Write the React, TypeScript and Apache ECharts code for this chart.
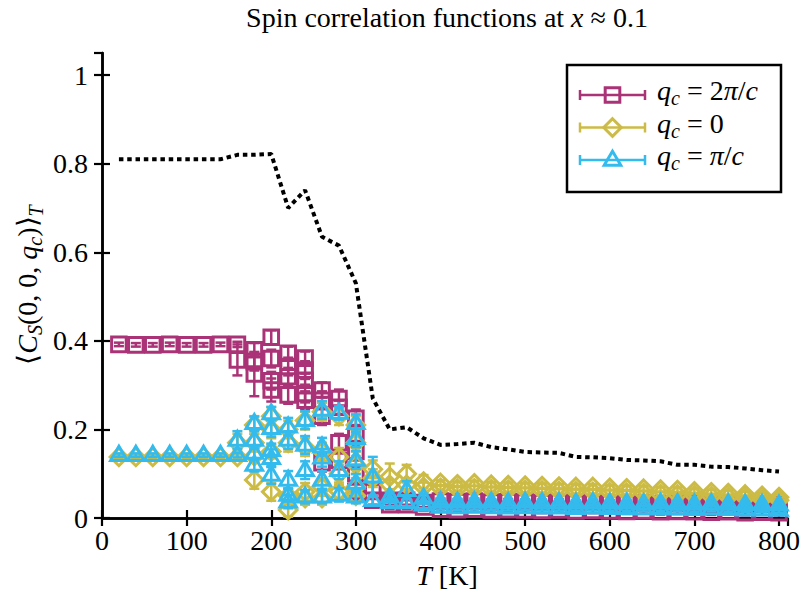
import React, { useEffect, useRef } from 'react';
import * as echarts from 'echarts';

const FONT = "'Liberation Serif', 'Times New Roman', serif";
const MAGENTA = '#AA3377';
const YELLOW = '#CCBB44';
const CYAN = '#33BBEE';

// ---------- q_c = 2π/c (open squares) ----------
const tTwoPi = [20, 40, 60, 80, 100, 120, 140,
  160, 160, 180, 180, 180, 200, 200, 200, 200, 220, 220, 220, 220,
  240, 240, 240, 240, 240, 260, 260, 260, 260, 280, 280, 280, 280,
  300, 300, 300, 300, 300, 320, 320, 340, 340, 360, 360, 380, 380,
  400, 400, 420, 420, 440, 440, 460, 460, 480, 480, 500, 500, 520, 520, 540, 540,
  560, 560, 580, 580, 600, 600, 620, 620, 640, 640, 660, 660, 680, 680, 700, 700,
  720, 720, 740, 740, 760, 760, 780, 780, 800, 800];
const vTwoPi = [0.392, 0.391, 0.391, 0.392, 0.391, 0.391, 0.392,
  0.392, 0.357, 0.38, 0.353, 0.325, 0.408, 0.36, 0.31, 0.289, 0.372, 0.342, 0.319, 0.278,
  0.361, 0.334, 0.311, 0.281, 0.266, 0.289, 0.266, 0.23, 0.125, 0.27, 0.25, 0.17, 0.13,
  0.225, 0.19, 0.15, 0.1, 0.06, 0.06, 0.04, 0.03, 0.04, 0.04, 0.03, 0.035, 0.025,
  0.038, 0.020, 0.037, 0.019, 0.038, 0.020, 0.036, 0.018, 0.037, 0.019, 0.036, 0.018,
  0.035, 0.017, 0.036, 0.018, 0.034, 0.016, 0.035, 0.017, 0.034, 0.016, 0.033, 0.015,
  0.034, 0.016, 0.032, 0.014, 0.033, 0.015, 0.032, 0.014, 0.031, 0.013, 0.032, 0.014,
  0.030, 0.012, 0.031, 0.013, 0.030, 0.012];
const eTwoPi = [0.004, 0.004, 0.004, 0.004, 0.004, 0.004, 0.004,
  0.006, 0.035, 0.015, 0.02, 0.05, 0.016, 0.02, 0.02, 0.026, 0.015, 0.02, 0.02, 0.02,
  0.015, 0.02, 0.015, 0.02, 0.02, 0.017, 0.02, 0.02, 0.02, 0.02, 0.015, 0.02, 0.02,
  0.02, 0.02, 0.02, 0.02, 0.02, 0.015, 0.01, 0.01, 0.01, 0.01, 0.01, 0.01, 0.008,
  0.006, 0.006, 0.006, 0.006, 0.006, 0.006, 0.006, 0.006, 0.006, 0.006, 0.006, 0.006,
  0.006, 0.006, 0.006, 0.006, 0.006, 0.006, 0.006, 0.006, 0.006, 0.006, 0.006, 0.006,
  0.006, 0.006, 0.006, 0.006, 0.006, 0.006, 0.006, 0.006, 0.006, 0.006, 0.006, 0.006,
  0.006, 0.006, 0.006, 0.006, 0.006, 0.006];

// ---------- q_c = 0 (open diamonds) ----------
const tZero = [20, 40, 60, 80, 100, 120, 140,
  160, 160, 180, 180, 180, 180, 200, 200, 200, 200, 220, 220, 220, 220,
  240, 240, 240, 240, 260, 260, 260, 260, 280, 280, 280, 280,
  300, 300, 300, 300, 300, 320, 320, 340, 340, 360, 360, 380, 380,
  400, 400, 420, 420, 440, 440, 460, 460, 480, 480, 500, 500, 520, 520, 540, 540,
  560, 560, 580, 580, 600, 600, 620, 620, 640, 640, 660, 660, 680, 680, 700, 700,
  720, 720, 740, 740, 760, 760, 780, 780, 800, 800];
const vZero = [0.138, 0.138, 0.138, 0.138, 0.138, 0.138, 0.138,
  0.138, 0.17, 0.21, 0.17, 0.14, 0.086, 0.23, 0.2, 0.15, 0.059, 0.2, 0.17, 0.05, 0.018,
  0.22, 0.16, 0.059, 0.045, 0.24, 0.15, 0.07, 0.045, 0.23, 0.138, 0.1, 0.06,
  0.21, 0.17, 0.12, 0.07, 0.05, 0.11, 0.09, 0.093, 0.075, 0.10, 0.075, 0.082, 0.07,
  0.079, 0.068, 0.076, 0.066, 0.078, 0.067, 0.075, 0.065, 0.074, 0.064, 0.073, 0.063,
  0.072, 0.062, 0.071, 0.061, 0.070, 0.060, 0.070, 0.059, 0.068, 0.058, 0.067, 0.057,
  0.066, 0.056, 0.064, 0.054, 0.063, 0.053, 0.060, 0.051, 0.058, 0.049, 0.056, 0.047,
  0.053, 0.045, 0.050, 0.042, 0.047, 0.040];
const eZero = [0.004, 0.004, 0.004, 0.004, 0.004, 0.004, 0.004,
  0.005, 0.02, 0.02, 0.02, 0.015, 0.02, 0.02, 0.02, 0.015, 0.02, 0.02, 0.02, 0.015, 0.015,
  0.02, 0.02, 0.02, 0.015, 0.02, 0.02, 0.02, 0.015, 0.02, 0.02, 0.02, 0.015,
  0.02, 0.02, 0.02, 0.02, 0.015, 0.02, 0.02, 0.03, 0.01, 0.02, 0.01, 0.015, 0.01,
  0.006, 0.006, 0.006, 0.006, 0.006, 0.006, 0.006, 0.006, 0.006, 0.006, 0.006, 0.006,
  0.006, 0.006, 0.006, 0.006, 0.006, 0.006, 0.006, 0.006, 0.006, 0.006, 0.006, 0.006,
  0.006, 0.006, 0.006, 0.006, 0.006, 0.006, 0.006, 0.006, 0.006, 0.006, 0.006, 0.006,
  0.006, 0.006, 0.006, 0.006, 0.006, 0.006];

// ---------- q_c = π/c (open triangles) ----------
const tPi = [20, 40, 60, 80, 100, 120, 140,
  160, 160, 180, 180, 180, 180, 200, 200, 200, 200, 200, 220, 220, 220, 220, 220,
  240, 240, 240, 240, 260, 260, 260, 260, 260, 280, 280, 280,
  300, 300, 300, 300, 300, 320, 320, 340, 340, 360, 360, 380, 380,
  400, 400, 420, 420, 440, 440, 460, 460, 480, 480, 500, 500, 520, 520, 540, 540,
  560, 560, 580, 580, 600, 600, 620, 620, 640, 640, 660, 660, 680, 680, 700, 700,
  720, 720, 740, 740, 760, 760, 780, 780, 800, 800];
const vPi = [0.142, 0.142, 0.142, 0.142, 0.142, 0.142, 0.142,
  0.142, 0.176, 0.214, 0.176, 0.147, 0.12, 0.236, 0.203, 0.153, 0.135, 0.097,
  0.206, 0.176, 0.086, 0.052, 0.037, 0.221, 0.165, 0.108, 0.048,
  0.244, 0.161, 0.136, 0.086, 0.048, 0.237, 0.108, 0.052,
  0.214, 0.18, 0.131, 0.079, 0.048, 0.093, 0.04, 0.048, 0.035, 0.063, 0.035, 0.045, 0.03,
  0.037, 0.025, 0.036, 0.024, 0.037, 0.025, 0.036, 0.024, 0.035, 0.023, 0.036, 0.024,
  0.035, 0.023, 0.035, 0.023, 0.034, 0.022, 0.035, 0.023, 0.034, 0.022, 0.034, 0.022,
  0.033, 0.021, 0.034, 0.022, 0.033, 0.021, 0.032, 0.020, 0.033, 0.021, 0.032, 0.020,
  0.031, 0.019, 0.031, 0.019, 0.030, 0.018];
const ePi = [0.004, 0.004, 0.004, 0.004, 0.004, 0.004, 0.004,
  0.005, 0.02, 0.015, 0.02, 0.015, 0.015, 0.015, 0.02, 0.015, 0.02, 0.02,
  0.02, 0.02, 0.02, 0.015, 0.015, 0.02, 0.02, 0.02, 0.015,
  0.02, 0.02, 0.02, 0.02, 0.015, 0.015, 0.02, 0.015,
  0.02, 0.02, 0.02, 0.02, 0.015, 0.045, 0.01, 0.01, 0.008, 0.02, 0.008, 0.01, 0.008,
  0.006, 0.006, 0.006, 0.006, 0.006, 0.006, 0.006, 0.006, 0.006, 0.006, 0.006, 0.006,
  0.006, 0.006, 0.006, 0.006, 0.006, 0.006, 0.006, 0.006, 0.006, 0.006, 0.006, 0.006,
  0.006, 0.006, 0.006, 0.006, 0.006, 0.006, 0.006, 0.006, 0.006, 0.006, 0.006, 0.006,
  0.006, 0.006, 0.006, 0.006, 0.006, 0.006];

// ---------- dotted black curve ----------
const dotT = [20, 40, 60, 80, 100, 120, 140, 160, 180, 200, 220, 240, 260, 280, 300,
  320, 340, 360, 380, 400, 420, 440, 460, 480, 500, 520, 540, 560, 580, 600,
  620, 640, 660, 680, 700, 720, 740, 760, 780, 800];
const dotV = [0.81, 0.81, 0.81, 0.81, 0.81, 0.81, 0.81, 0.82, 0.82, 0.822, 0.70, 0.74, 0.635, 0.615, 0.53,
  0.27, 0.20, 0.205, 0.18, 0.165, 0.167, 0.17, 0.16, 0.155, 0.149, 0.148, 0.147, 0.138, 0.137, 0.135,
  0.131, 0.13, 0.128, 0.12, 0.12, 0.116, 0.115, 0.112, 0.108, 0.105];

// ---------- text helpers ----------
let mctx: CanvasRenderingContext2D | null = null;
function measure(text: string, font: string): number {
  if (!mctx) mctx = document.createElement('canvas').getContext('2d');
  if (!mctx) return text.length * 12;
  mctx.font = font;
  return mctx.measureText(text).width;
}
type Piece = { t: string; it?: boolean; s?: number; dy?: number; gap?: number };
function textGroup(pieces: Piece[], x: number, y: number, center: boolean, rotation = 0, z = 20, base = 28) {
  let cx = 0;
  const items: any[] = [];
  for (const p of pieces) {
    const s = p.s ?? base;
    const font = `${p.it ? 'italic ' : ''}${s}px ${FONT}`;
    cx += p.gap ?? 0;
    items.push({ t: p.t, font, x: cx, dy: p.dy ?? 0, s });
    cx += measure(p.t, font);
  }
  const x0 = center ? -cx / 2 : 0;
  return {
    type: 'group', x, y, rotation, silent: true,
    children: items.map((e) => ({
      type: 'text', z, x: x0 + e.x, y: e.dy - 0.3375 * e.s,
      style: { text: e.t, font: e.font, fill: '#000', textAlign: 'left', textVerticalAlign: 'middle' },
    })),
  };
}

function marker(shape: string, cx: number, cy: number, color: string, z?: number, lw = 3) {
  const st = { stroke: color, lineWidth: lw, fill: 'none', lineJoin: 'miter' };
  let el: any;
  if (shape === 'square') {
    el = { type: 'rect', shape: { x: cx - 7.3, y: cy - 7.3, width: 14.6, height: 14.6 }, style: st };
  } else if (shape === 'diamond') {
    el = { type: 'polygon', shape: { points: [[cx, cy - 8.8], [cx + 8.8, cy], [cx, cy + 8.8], [cx - 8.8, cy]] }, style: st };
  } else {
    el = { type: 'polygon', shape: { points: [[cx, cy - 8.8], [cx + 8.3, cy + 5.3], [cx - 8.3, cy + 5.3]] }, style: st };
  }
  if (z !== undefined) el.z = z;
  return el;
}

function errSeries(name: string, ts: number[], vs: number[], es: number[], shape: string, color: string, z: number) {
  return {
    type: 'custom', name, z, clip: false,
    xAxisIndex: 0, yAxisIndex: 0,
    dimensions: ['T', 'v', 'e'],
    encode: { x: 0, y: 1 },
    data: ts.map((t, i) => [t, vs[i], es[i]]),
    renderItem: (params: any, api: any) => {
      const t = api.value(0), v = api.value(1), e = api.value(2);
      const c = api.coord([t, v]);
      const yt = api.coord([t, v + e])[1];
      const yb = api.coord([t, v - e])[1];
      const ls = { stroke: color, lineWidth: 2.5, fill: 'none' };
      const cap = 5;
      return {
        type: 'group',
        children: [
          { type: 'line', shape: { x1: c[0], y1: yt, x2: c[0], y2: yb }, style: ls },
          { type: 'line', shape: { x1: c[0] - cap, y1: yt, x2: c[0] + cap, y2: yt }, style: ls },
          { type: 'line', shape: { x1: c[0] - cap, y1: yb, x2: c[0] + cap, y2: yb }, style: ls },
          marker(shape, c[0], c[1], color),
        ],
      };
    },
  };
}

function legendRow(y: number, shape: string, color: string) {
  const ls = { stroke: color, lineWidth: 2.5 };
  return [
    { type: 'line', z: 31, shape: { x1: 580, y1: y, x2: 645, y2: y }, style: ls },
    { type: 'line', z: 31, shape: { x1: 580, y1: y - 5, x2: 580, y2: y + 5 }, style: ls },
    { type: 'line', z: 31, shape: { x1: 645, y1: y - 5, x2: 645, y2: y + 5 }, style: ls },
    marker(shape, 612.5, y, color, 32),
  ];
}

function buildOption() {
  const axisCommon = {
    type: 'value',
    axisLine: { show: true, lineStyle: { color: '#000', width: 2.5 } },
    axisTick: { show: true, inside: true, length: 8, lineStyle: { color: '#000', width: 2.2 } },
    splitLine: { show: false },
  };
  const xBase = { ...axisCommon, min: 0, max: 810, interval: 100 };
  const yBase = { ...axisCommon, min: 0, max: 1.05, interval: 0.2 };
  const labelStyle = { color: '#000', fontFamily: FONT, fontSize: 28 };
  return {
    animation: false,
    backgroundColor: '#fff',
    grid: { left: 102, right: 10, top: 53, bottom: 81 },
    xAxis: [
      { ...xBase, position: 'bottom', axisLabel: { ...labelStyle, margin: 8, showMaxLabel: false } },
      { ...xBase, position: 'top', axisLabel: { show: false } },
    ],
    yAxis: [
      { ...yBase, position: 'left', axisLabel: { ...labelStyle, margin: 14, showMaxLabel: false } },
      { ...yBase, position: 'right', axisLabel: { show: false } },
    ],
    series: [
      errSeries('q_c = 2π/c', tTwoPi, vTwoPi, eTwoPi, 'square', MAGENTA, 2),
      errSeries('q_c = 0', tZero, vZero, eZero, 'diamond', YELLOW, 3),
      errSeries('q_c = π/c', tPi, vPi, ePi, 'triangle', CYAN, 4),
      {
        type: 'line', z: 5, xAxisIndex: 0, yAxisIndex: 0,
        data: dotT.map((t, i) => [t, dotV[i]]),
        showSymbol: false, symbol: 'none',
        lineStyle: { color: '#000', width: 4, type: [4.5, 3.8], cap: 'butt' },
      },
    ],
    graphic: [
      textGroup([{ t: 'Spin correlation functions at ' }, { t: 'x', it: true }, { t: ' ≈ 0.1' }], 447, 27, true),
      textGroup([{ t: 'T', it: true }, { t: ' [K]' }], 447, 585, true),
      textGroup([
        { t: '⟨' }, { t: 'C', it: true }, { t: 'S', it: true, s: 20, dy: 5 }, { t: '(0, 0, ' },
        { t: 'q', it: true }, { t: 'c', it: true, s: 20, dy: 5 }, { t: ')' }, { t: '⟩' },
        { t: 'T', it: true, s: 20, dy: 6 },
      ], 37, 285, true, Math.PI / 2),
      {
        type: 'rect', z: 30, shape: { x: 567, y: 65, width: 214, height: 127 },
        style: { fill: '#fff', stroke: '#000', lineWidth: 2.5 },
      },
      ...legendRow(95, 'square', MAGENTA),
      ...legendRow(127.5, 'diamond', YELLOW),
      ...legendRow(160, 'triangle', CYAN),
      textGroup([{ t: 'q', it: true }, { t: 'c', it: true, s: 20, dy: 5 }, { t: ' = 2' }, { t: 'π', it: true }, { t: '/' }, { t: 'c', it: true }], 657, 100, false, 0, 33),
      textGroup([{ t: 'q', it: true }, { t: 'c', it: true, s: 20, dy: 5 }, { t: ' = 0' }], 657, 132.5, false, 0, 33),
      textGroup([{ t: 'q', it: true }, { t: 'c', it: true, s: 20, dy: 5 }, { t: ' = ' }, { t: 'π', it: true }, { t: '/' }, { t: 'c', it: true }], 657, 165, false, 0, 33),
    ],
  };
}

export default function App() {
  const ref = useRef<HTMLDivElement>(null);
  useEffect(() => {
    document.body.style.margin = '0';
    document.body.style.overflow = 'hidden';
    const chart = echarts.init(ref.current as HTMLDivElement, null, { renderer: 'svg' });
    chart.setOption(buildOption() as any);
    return () => chart.dispose();
  }, []);
  return <div ref={ref} style={{ width: 803, height: 599 }} />;
}
